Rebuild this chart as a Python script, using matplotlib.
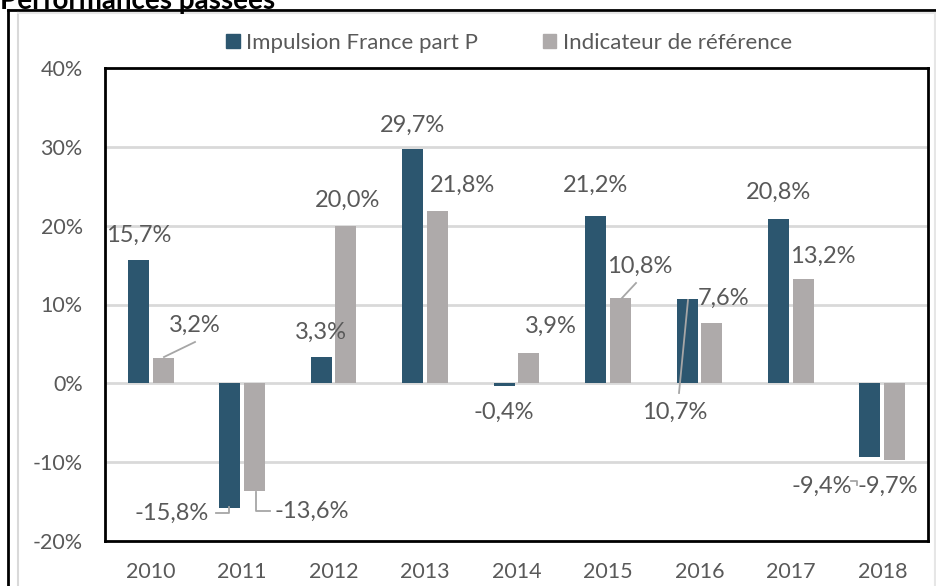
import matplotlib
matplotlib.use("Agg")
import matplotlib.pyplot as plt
from matplotlib.patches import Rectangle
from matplotlib.lines import Line2D
import numpy as np

years = ["2010", "2011", "2012", "2013", "2014", "2015", "2016", "2017", "2018"]
fund = [15.7, -15.8, 3.3, 29.7, -0.4, 21.2, 10.7, 20.8, -9.4]
bench = [3.2, -13.6, 20.0, 21.8, 3.9, 10.8, 7.6, 13.2, -9.7]
yticks = [-20, -10, 0, 10, 20, 30, 40]
series_names = ["Impulsion France part P", "Indicateur de référence"]

DARK = "#2C566F"
GRAY = "#AEAAAA"
TXT = "#595959"
FONT = "Lato"
FS_TICK = 15.5
FS_LAB = 17
FS_LEG = 16

plt.rcParams['font.family'] = [FONT, 'DejaVu Sans']

fig = plt.figure(figsize=(9.37, 5.86), dpi=100)
ax = fig.add_axes([105/937, 1-541/586, (928-105)/937, (541-68)/586])

x = np.arange(len(years))
w = 0.23
off = 0.135
ax.bar(x - off, fund, width=w, color=DARK, zorder=3)
ax.bar(x + off, bench, width=w, color=GRAY, zorder=3)

ax.set_xlim(-0.5, len(years) - 0.5)
ax.set_ylim(-20, 40)
ax.set_yticks(yticks)
ax.set_yticklabels([f"{v}%" for v in yticks], color=TXT, fontsize=FS_TICK)
ax.set_xticks(x)
ax.set_xticklabels(years, color=TXT, fontsize=FS_TICK)
ax.tick_params(axis='both', length=0)
ax.tick_params(axis='y', pad=16)
ax.tick_params(axis='x', pad=15)
for v in yticks[1:-1]:
    ax.axhline(v, color="#D9D9D9", lw=2, zorder=1)
for s in ax.spines.values():
    s.set_color("black")
    s.set_linewidth(2)

def lab(xi, val, dx, dy):
    ax.annotate(f"{val:.1f}%".replace(".", ","), xy=(xi, val), xytext=(dx, dy),
                textcoords="offset points", ha="center", va="center",
                color=TXT, fontsize=FS_LAB, zorder=5)

# label offsets in pixels from the bar end
k = 72/100
fund_off = [(0, 24), (-58, -5), (0, 25), (0, 24), (0, -26), (0, 31), (-12, -113), (0, 27), (-48, -29)]
bench_off = [(32, 33), (57, -21), (2, 25), (25, 26), (22, 26), (19, 32), (12, 25), (20, 23), (-7, -27)]
for i in range(len(years)):
    dx, dy = fund_off[i]
    lab(x[i] - off, fund[i], dx * k, dy * k)
    dx, dy = bench_off[i]
    lab(x[i] + off, bench[i], dx * k, dy * k)

def pix_line(pts):
    xs = [p[0] / 937 for p in pts]
    ys = [1 - p[1] / 586 for p in pts]
    fig.add_artist(Line2D(xs, ys, color="#A6A6A6", lw=1.3, zorder=6))

pix_line([(164, 357), (195, 342)])
pix_line([(229, 507), (229, 513), (216, 513)])
pix_line([(256, 492), (256, 511), (270, 511)])
pix_line([(622, 298), (636, 283)])
pix_line([(688, 300), (679, 393)])
pix_line([(851, 481), (857, 481), (857, 485)])

legend_handles = [Rectangle((0, 0), 1, 1, color=DARK), Rectangle((0, 0), 1, 1, color=GRAY)]
fig.legend(legend_handles, series_names, loc="center", bbox_to_anchor=(509/937, 1-43/586),
           ncol=2, frameon=False, fontsize=FS_LEG, labelcolor=TXT, handlelength=0.6,
           handleheight=0.6, handletextpad=0.3, columnspacing=2.9)

fig.add_artist(Line2D([8/937, 8/937], [0, 1-10/586], color="black", lw=2))
fig.add_artist(Line2D([8/937, 1], [1-10/586, 1-10/586], color="black", lw=2))
fig.add_artist(Line2D([18/937, 18/937], [0, 1-13/586], color="#D9D9D9", lw=1.5))
fig.add_artist(Line2D([18/937, 935/937], [1-13/586, 1-13/586], color="#E6E6E6", lw=1.5))
fig.add_artist(Line2D([935/937, 935/937], [0, 1-13/586], color="#E6E6E6", lw=1.5))

fig.text(0/937, 1 - 1/586, "Performances passées", fontsize=20, fontweight="bold",
         color="black", va="center", ha="left", family=[FONT, 'DejaVu Sans'])

fig.savefig("out.png", dpi=100)
